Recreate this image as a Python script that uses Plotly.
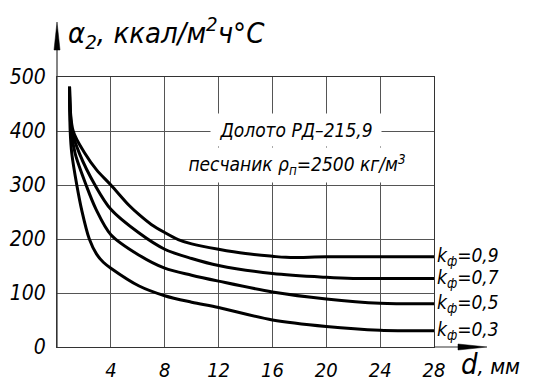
import plotly.graph_objects as go

# Data (d in mm, alpha2 in kcal/m2 h C)
d_09 = [0.93, 1.2, 2.09, 2.94, 4.0, 5.4, 6.1, 7.0, 8.0, 9.0, 10.0, 12.0, 14.0, 16.0, 17.0, 20.0, 24.0, 28.0]
a_09 = [482, 400, 358, 328, 300, 261, 245, 227, 212, 199, 191, 181, 173, 168, 166, 167, 167, 167]

d_07 = [0.93, 1.12, 1.67, 2.82, 4.0, 6.1, 8.0, 10.0, 12.0, 16.0, 20.0, 22.0, 24.0, 28.0]
a_07 = [482, 400, 358, 300, 255, 211, 181, 164, 151, 136, 129, 127, 127, 127]

d_05 = [0.93, 1.05, 1.35, 2.16, 2.9, 4.0, 6.1, 8.0, 10.0, 12.0, 16.0, 20.0, 24.0, 28.0]
a_05 = [482, 400, 358, 300, 255, 208, 170, 146, 133, 122, 102, 89, 81, 80]

d_03 = [0.93, 0.98, 1.1, 1.47, 1.84, 2.4, 2.94, 3.44, 4.0, 6.1, 8.0, 10.0, 12.0, 16.0, 20.0, 24.0, 28.0]
a_03 = [482, 400, 358, 300, 253, 200, 172, 157, 146, 113, 95, 83, 73, 50, 38, 31, 30]

series = [
    ("k<sub>ф</sub>=0,9", d_09, a_09),
    ("k<sub>ф</sub>=0,7", d_07, a_07),
    ("k<sub>ф</sub>=0,5", d_05, a_05),
    ("k<sub>ф</sub>=0,3", d_03, a_03),
]

x_ticks = [4, 8, 12, 16, 20, 24, 28]
y_ticks = [0, 100, 200, 300, 400, 500]

FONT = "DejaVu Sans Condensed, sans-serif"

fig = go.Figure()
for name, xs, ys in series:
    fig.add_trace(go.Scatter(x=xs, y=ys, mode="lines", name=name,
                             line=dict(color="black", width=3, shape="spline", smoothing=0.9),
                             showlegend=False, hoverinfo="skip"))

# curve labels at right end
for name, xs, ys in series:
    fig.add_annotation(x=xs[-1], y=ys[-1], xref="x", yref="y", text=name,
                       showarrow=False, xanchor="left", yanchor="middle", xshift=1,
                       font=dict(family=FONT, size=19, color="black", style="italic"))

L, R, T, B = 57, 434, 77, 347
W, H = R - L, B - T
def px(x):
    return (x - L) / W
def py(y):
    return (B - y) / H

# text boxes (white background interrupts grid lines)
fig.add_annotation(x=px(296), y=py(113), xref="paper", yref="paper",
                   text="Долото РД–215,9", showarrow=False,
                   bgcolor="white", width=168, height=30,
                   font=dict(family=FONT, size=19, color="black", style="italic"))
fig.add_annotation(x=px(297), y=py(147), xref="paper", yref="paper",
                   text="песчаник ρ<sub>п</sub>=2500 кг/м<sup>3</sup>", showarrow=False,
                   bgcolor="white", width=240, height=32,
                   font=dict(family=FONT, size=19, color="black", style="italic"))

# axis title annotations
fig.add_annotation(x=px(66), y=py(33), xref="paper", yref="paper",
                   text="α<sub>2</sub>, ккал/м<sup>2</sup>ч°С", showarrow=False,
                   xanchor="left", yanchor="middle",
                   font=dict(family=FONT, size=29, color="black", style="italic"))
fig.add_annotation(x=px(459), y=py(364), xref="paper", yref="paper",
                   text="<span style='font-size:29px'>d</span>, мм", showarrow=False,
                   xanchor="left", yanchor="middle",
                   font=dict(family=FONT, size=22, color="black", style="italic"))

# axis extensions with arrowheads
fig.add_shape(type="line", xref="paper", yref="paper", x0=px(57), y0=py(347), x1=px(57), y1=py(40),
              line=dict(color="#333", width=1.2))
fig.add_shape(type="path", xref="paper", yref="paper",
              path=f"M {px(54)} {py(50)} L {px(57)} {py(22)} L {px(60)} {py(50)} Z",
              fillcolor="black", line=dict(color="black", width=0.5))
fig.add_shape(type="line", xref="paper", yref="paper", x0=px(434), y0=py(347), x1=px(475), y1=py(347),
              line=dict(color="#333", width=1.2))
fig.add_shape(type="path", xref="paper", yref="paper",
              path=f"M {px(458)} {py(344)} L {px(487)} {py(347)} L {px(458)} {py(350)} Z",
              fillcolor="black", line=dict(color="black", width=0.5))

fig.update_layout(
    width=534, height=382,
    margin=dict(l=L, r=534 - R, t=T, b=382 - B, autoexpand=False),
    paper_bgcolor="white", plot_bgcolor="white",
    font=dict(family=FONT, color="black"),
    xaxis=dict(range=[0, 28], tickvals=x_ticks, ticktext=[str(v) for v in x_ticks],
               showgrid=True, gridcolor="#555", gridwidth=1, zeroline=False,
               showline=True, linecolor="#333", linewidth=1.2, mirror=True,
               ticks="", ticklabelstandoff=5, automargin=False,
               tickfont=dict(family=FONT, size=20, color="black", style="italic")),
    yaxis=dict(range=[0, 500], tickvals=y_ticks, ticktext=[str(v) for v in y_ticks],
               showgrid=True, gridcolor="#555", gridwidth=1, zeroline=False,
               showline=True, linecolor="#333", linewidth=1.2, mirror=True,
               ticks="", ticklabelstandoff=6, automargin=False,
               tickfont=dict(family=FONT, size=21, color="black", style="italic")),
)

fig.write_html("out.html")
